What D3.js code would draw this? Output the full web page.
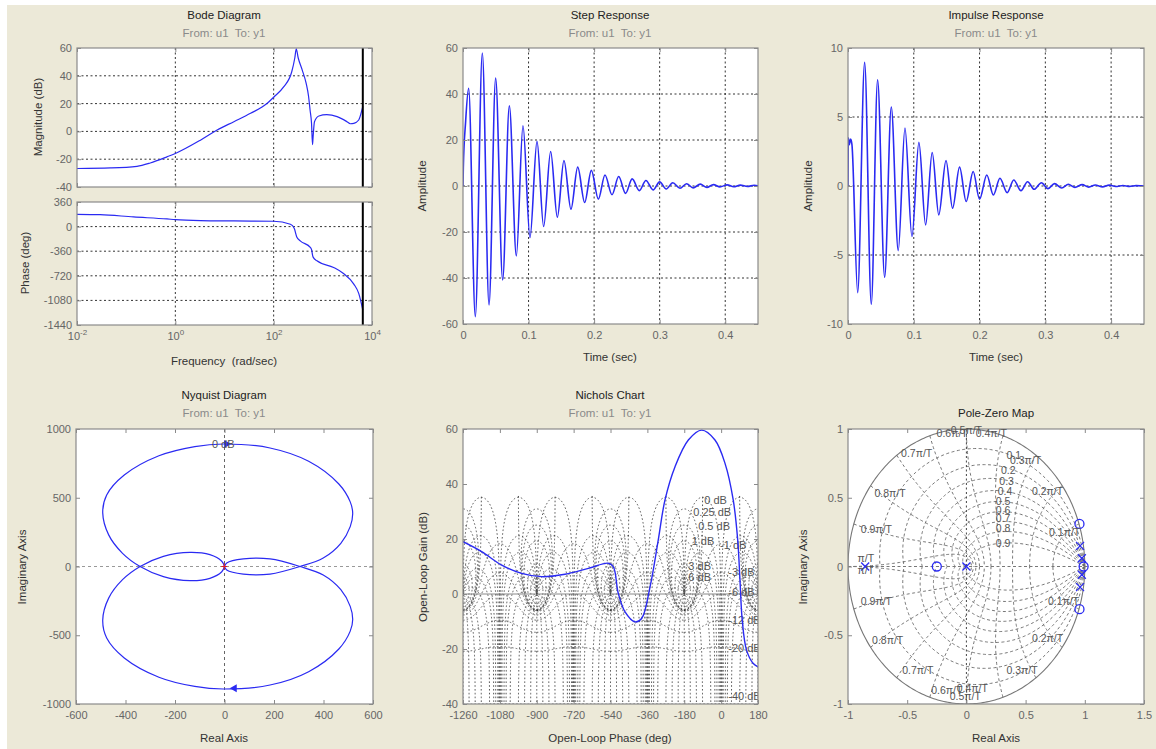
<!DOCTYPE html>
<html><head><meta charset="utf-8">
<script src="https://cdn.jsdelivr.net/npm/d3@7"></script>
<style>
body{margin:0;background:#fff;}
svg text{font-family:"Liberation Sans",Arial,Helvetica,sans-serif;}
.pre{white-space:pre;}
</style></head><body>
<svg id="chart" width="1156" height="749"></svg>
<script>
// ================= DATA =================
const panelTitles = ["Bode Diagram","Step Response","Impulse Response","Nyquist Diagram","Nichols Chart","Pole-Zero Map"];
const ioSubtitle = "From: u1  To: y1";

// Bode
const bodeFreqTicks = [0.01, 1, 100, 10000];
const bodeMagTicks = [-40, -20, 0, 20, 40, 60];
const bodePhaseTicks = [-1440, -1080, -720, -360, 0, 360];
const bodeMagFreq = [0.01,0.048,0.166,0.309,0.676,1,3.24,7.08,15.5,33.9,74.1,100,158,234,269,288,316,380,457,513,550,589,617,631,676,832,1202,1950,3090,3630,4266,5370,6300,6500];
const bodeMagDb   = [-26.7,-26.3,-25.1,-22.7,-18.3,-15.9,-6.3,1.0,7.0,13.0,20.2,24.6,31.8,43.1,52.8,59.3,52.8,44.3,34.7,25.1,15.4,5.8,-9.5,-5.0,7.0,11.1,12.0,10.6,7.0,5.5,5.8,8.2,16.0,18.0];
const bodePhaseFreq = [0.01,0.0295,0.141,0.676,1,3.24,15.5,100,219,263,295,347,562,589,631,759,1660,2630,4266,5370,6500];
const bodePhaseDeg  = [180,175,141,112,102,88,83,78,34,-29,-151,-209,-307,-336,-443,-501,-598,-686,-841,-978,-1221];
const nyquistFreq = 6500;

// Step response
const stepTimeTicks = [0, 0.1, 0.2, 0.3, 0.4];
const stepAmpTicks = [-60, -40, -20, 0, 20, 40, 60];
const stepT = [0,0.0005,0.004,0.0086,0.0188,0.0295,0.0397,0.0498,0.0605,0.0707,0.0814,0.0915,0.1022,0.1129,0.123,0.1337,0.1439,0.154,0.1647,0.175,0.1856,0.1958,0.2064,0.2166,0.2273,0.2375,0.248,0.258,0.269,0.279,0.29,0.300,0.310,0.320,0.331,0.341,0.351,0.362,0.372,0.382,0.392,0.403,0.413,0.423,0.434,0.444,0.45];
const stepY = [0,8,28,42.5,-56.8,57.8,-51.7,46.9,-40.8,34.9,-30.4,26.2,-22.4,19.4,-17.6,15.0,-13.6,11.1,-10.1,8.2,-7.2,6.8,-5.7,4.8,-3.8,4.1,-3.2,3.1,-2.0,2.4,-1.7,1.8,-1.3,1.4,-1.0,1.0,-0.8,0.8,-0.6,0.6,-0.4,0.5,-0.3,0.4,-0.2,0.3,0.1];

// Impulse response
const impAmpTicks = [-10, -5, 0, 5, 10];
const impT = [0,0.0005,0.002,0.004,0.006,0.0147,0.0253,0.0354,0.045,0.0557,0.0658,0.0764,0.0866,0.0972,0.1078,0.118,0.128,0.138,0.149,0.159,0.1696,0.1797,0.1903,0.2,0.211,0.221,0.231,0.242,0.252,0.263,0.273,0.283,0.294,0.304,0.314,0.325,0.335,0.345,0.356,0.366,0.376,0.387,0.397,0.407,0.418,0.428,0.438,0.45];
const impY = [0,3.5,3.0,3.4,3.0,-7.73,8.96,-8.57,7.70,-6.61,5.72,-4.68,4.20,-3.66,3.16,-2.82,2.43,-2.09,1.85,-1.61,1.37,-1.12,1.05,-0.95,0.80,-0.65,0.56,-0.48,0.44,-0.34,0.31,-0.24,0.24,-0.19,0.17,-0.14,0.13,-0.10,0.10,-0.08,0.07,-0.06,0.06,-0.04,0.04,-0.03,0.03,0];

// Nyquist (one frequency branch; the other is its mirror image)
const nyqReTicks = [-600, -400, -200, 0, 200, 400, 600];
const nyqImTicks = [-1000, -500, 0, 500, 1000];
const nyqRe = [0,-11,-59,-139,-247,-341,-412,-468,-492,-476,-405,-265,-120,-5,184,340,462,508,518,508,470,399,305,184,76,9,0];
const nyqIm = [0,-38,-86,-103,-74,0,96,230,390,520,665,805,872,891,862,765,600,470,385,290,169,62,0,-55,-55,-25,0];
const nyqArrowRe = [8, 40];
const nyqArrowIm = [891, -886];
const nyqArrowDir = [1, -1];
const nyqCritical = [-1, 0];
const nyqGridLabel = {text: "0 dB", re: -5, im: 891};

// Nichols
const nicholsPhaseTicks = [-1260, -1080, -900, -720, -540, -360, -180, 0, 180];
const nicholsGainTicks = [-40, -20, 0, 20, 40, 60];
const nicholsPhase = [-1260,-1169,-1071,-974,-876,-762,-648,-551,-526,-502,-469,-421,-388,-347,-307,-274,-225,-160,-95,-30,19,59,81,92,103,124,157,180];
const nicholsGain  = [19.0,15.4,10.5,7.5,6.3,7.2,9.3,11.2,9.9,0.2,-6.5,-10.1,-8.9,2.6,19.6,34.2,46.3,56.0,59.6,56.0,47.5,34.2,19.6,5.1,-9.5,-20.4,-25.3,-26.5];
const ngridGainDb = [6, 3, 1, 0.5, 0.25, 0, -1, -3, -6, -12, -20, -40];
const ngridPhaseDeg = [1, 5, 10, 20, 30, 50, 90, 120, 150, 180];
const nicholsLabelText  = ["0 dB","0.25 dB","0.5 dB","1 dB","-1 dB","3 dB","6 dB","-3 dB","-6 dB","-12 dB","-20 dB","-40 dB"];
const nicholsLabelPhase = [-82,-136,-112,-144,-5,-160,-160,35,35,35,35,35];
const nicholsLabelGain  = [34.2,29.6,24.7,19.4,17.8,10.2,6.3,8.1,0.5,-9.5,-19.8,-37.1];

// Pole-zero map
const pzReTicks = [-1, -0.5, 0, 0.5, 1, 1.5];
const pzImTicks = [-1, -0.5, 0, 0.5, 1];
const zerosRe = [0.955, 0.955, 0.99, -0.25];
const zerosIm = [0.31, -0.31, 0, 0];
const polesRe = [0, -0.855, 0.96, 0.96, 0.975, 0.975];
const polesIm = [0, 0, 0.15, -0.15, 0.06, -0.06];
const zgridZeta = [0.1,0.2,0.3,0.4,0.5,0.6,0.7,0.8,0.9];
const zgridWn = [0.1,0.2,0.3,0.4,0.5,0.6,0.7,0.8,0.9,1.0];
const zetaLabelText = ["0.1","0.2","0.3","0.4","0.5","0.6","0.7","0.8","0.9"];
const zetaLabelRe = [0.40,0.354,0.34,0.326,0.31,0.31,0.31,0.31,0.31];
const zetaLabelIm = [0.81,0.70,0.617,0.544,0.476,0.41,0.35,0.278,0.169];
const wnLabelText = ["0.1\u03c0/T","0.2\u03c0/T","0.3\u03c0/T","0.4\u03c0/T","0.5\u03c0/T","0.6\u03c0/T","0.7\u03c0/T","0.8\u03c0/T","0.9\u03c0/T","\u03c0/T"];
const wnLabelUpperRe = [0.83,0.685,0.50,0.21,0.0,-0.12,-0.42,-0.645,-0.76,-0.85];
const wnLabelUpperIm = [0.25,0.55,0.77,0.965,0.99,0.965,0.82,0.53,0.27,0.06];
const wnLabelLowerRe = [0.82,0.685,0.47,0.05,-0.01,-0.165,-0.41,-0.665,-0.76,-0.85];
const wnLabelLowerIm = [-0.256,-0.52,-0.753,-0.885,-0.947,-0.90,-0.753,-0.535,-0.256,-0.03];

// ================= DRAWING =================
const svg = d3.select("#chart");
const BLUE = "#2a2af2";
const TICKTXT = "#666";
const FRAME = "#8a8a8a";
svg.append("rect").attr("width",1156).attr("height",749).attr("fill","#fff");
svg.append("rect").attr("x",7).attr("y",5).attr("width",1149).attr("height",744).attr("fill","#ece9d8");

const fmt = d => String(d);

function addPanel(id, box, xs, ys, cfg) {
  const {x0,y0,x1,y1} = box;
  const g = svg.append("g");
  g.append("rect").attr("x",x0).attr("y",y0).attr("width",x1-x0).attr("height",y1-y0).attr("fill","#fff");
  svg.append("clipPath").attr("id","clip-"+id).append("rect")
    .attr("x",x0).attr("y",y0).attr("width",x1-x0).attr("height",y1-y0);
  const grid = g.append("g").attr("clip-path",`url(#clip-${id})`);
  const content = g.append("g").attr("clip-path",`url(#clip-${id})`);
  const over = g.append("g");
  if (cfg.gridX) grid.selectAll(null).data(cfg.gridX).join("line")
    .attr("x1",d=>xs(d)).attr("x2",d=>xs(d)).attr("y1",y0).attr("y2",y1)
    .attr("stroke","#333").attr("stroke-width",1).attr("stroke-dasharray","2,2.5");
  if (cfg.gridY) grid.selectAll(null).data(cfg.gridY).join("line")
    .attr("y1",d=>ys(d)).attr("y2",d=>ys(d)).attr("x1",x0).attr("x2",x1)
    .attr("stroke","#333").attr("stroke-width",1).attr("stroke-dasharray","2,2.5");
  over.append("rect").attr("x",x0).attr("y",y0).attr("width",x1-x0).attr("height",y1-y0)
    .attr("fill","none").attr("stroke",FRAME).attr("stroke-width",1.2);
  const mk = (axis, tx, ty) => {
    const a = over.append("g").attr("transform",`translate(${tx},${ty})`).call(axis);
    a.select(".domain").remove();
    a.attr("font-size",11).attr("font-family",null).attr("color",FRAME);
    a.selectAll("text").attr("fill",TICKTXT);
    return a;
  };
  const none = () => "";
  const xb = mk(d3.axisBottom(xs).tickValues(cfg.xTicks).tickSizeInner(-4).tickSizeOuter(0).tickPadding(7)
    .tickFormat(cfg.xLabels === false ? none : fmt), 0, y1);
  mk(d3.axisTop(xs).tickValues(cfg.xTicks).tickSizeInner(-4).tickSizeOuter(0).tickFormat(none), 0, y0);
  mk(d3.axisLeft(ys).tickValues(cfg.yTicks).tickSizeInner(-4).tickSizeOuter(0).tickPadding(5).tickFormat(fmt), x0, 0);
  mk(d3.axisRight(ys).tickValues(cfg.yTicks).tickSizeInner(-4).tickSizeOuter(0).tickFormat(none), x1, 0);
  return {g, grid, content, over, xb};
}
function title(cx, y, t, sub) {
  svg.append("text").attr("x",cx).attr("y",y).attr("text-anchor","middle").attr("font-size",11.5).attr("fill","#222").text(t);
  if (sub) svg.append("text").attr("class","pre").attr("x",cx).attr("y",y+18).attr("text-anchor","middle").attr("font-size",11.5).attr("fill","#8a8a8a").text(sub);
}
function xlabel(cx, y, t) {
  svg.append("text").attr("class","pre").attr("x",cx).attr("y",y).attr("dy","0.35em").attr("text-anchor","middle").attr("font-size",11.5).attr("fill","#333").text(t);
}
function ylabel(x, cy, t) {
  svg.append("text").attr("transform",`translate(${x},${cy}) rotate(-90)`).attr("dy","0.35em").attr("text-anchor","middle").attr("font-size",11.5).attr("fill","#333").text(t);
}

// ---------- Bode ----------
const bx = d3.scaleLog().domain([0.01, 10000]).range([77, 372]);
const bmY = d3.scaleLinear().domain([-40, 60]).range([187, 48]);
const bpY = d3.scaleLinear().domain([-1440, 360]).range([325, 202]);
const bm = addPanel("bm", {x0:77,y0:48,x1:372,y1:187}, bx, bmY, {xTicks:bodeFreqTicks, yTicks:bodeMagTicks, gridX:[1,100], gridY:[-20,0,20,40], xLabels:false});
const bp = addPanel("bp", {x0:77,y0:202,x1:372,y1:325}, bx, bpY, {xTicks:bodeFreqTicks, yTicks:bodePhaseTicks, gridX:[1,100], gridY:[-1080,-720,-360,0]});
bp.xb.selectAll(".tick text").each(function(d){
  const t = d3.select(this); t.text(null);
  t.append("tspan").text("10");
  t.append("tspan").attr("dy","-0.55em").attr("font-size",8).text(String(Math.round(Math.log10(d))));
});
bm.content.append("path").datum(d3.zip(bodeMagFreq, bodeMagDb))
  .attr("d", d3.line().x(d=>bx(d[0])).y(d=>bmY(d[1])).curve(d3.curveMonotoneX))
  .attr("fill","none").attr("stroke",BLUE).attr("stroke-width",1.2);
bp.content.append("path").datum(d3.zip(bodePhaseFreq, bodePhaseDeg))
  .attr("d", d3.line().x(d=>bx(d[0])).y(d=>bpY(d[1])).curve(d3.curveMonotoneX))
  .attr("fill","none").attr("stroke",BLUE).attr("stroke-width",1.2);
[bm, bp].forEach((p,i) => p.content.append("line")
  .attr("x1",bx(nyquistFreq)).attr("x2",bx(nyquistFreq)).attr("y1",i?202:48).attr("y2",i?325:187)
  .attr("stroke","#000").attr("stroke-width",2));
title(224, 19, panelTitles[0], ioSubtitle);
ylabel(38, 117, "Magnitude (dB)");
ylabel(25, 263, "Phase (deg)");
xlabel(224, 361, "Frequency  (rad/sec)");

// ---------- Step ----------
const sx = d3.scaleLinear().domain([0, 0.45]).range([463, 758]);
const sy = d3.scaleLinear().domain([-60, 60]).range([324, 48]);
const sp = addPanel("st", {x0:463,y0:48,x1:758,y1:324}, sx, sy, {xTicks:stepTimeTicks, yTicks:stepAmpTicks, gridX:[0.1,0.2,0.3,0.4], gridY:[-40,-20,0,20,40]});
sp.content.append("path").datum(d3.zip(stepT, stepY))
  .attr("d", d3.line().x(d=>sx(d[0])).y(d=>sy(d[1])).curve(d3.curveMonotoneX))
  .attr("fill","none").attr("stroke",BLUE).attr("stroke-width",1.6);
title(610, 19, panelTitles[1], ioSubtitle);
ylabel(422, 186, "Amplitude");
xlabel(610, 357, "Time (sec)");

// ---------- Impulse ----------
const ix = d3.scaleLinear().domain([0, 0.45]).range([848, 1144]);
const iy = d3.scaleLinear().domain([-10, 10]).range([324, 48]);
const ip = addPanel("im", {x0:848,y0:48,x1:1144,y1:324}, ix, iy, {xTicks:stepTimeTicks, yTicks:impAmpTicks, gridX:[0.1,0.2,0.3,0.4], gridY:[-5,0,5]});
ip.content.append("path").datum(d3.zip(impT, impY))
  .attr("d", d3.line().x(d=>ix(d[0])).y(d=>iy(d[1])).curve(d3.curveMonotoneX))
  .attr("fill","none").attr("stroke",BLUE).attr("stroke-width",1.6);
title(996, 19, panelTitles[2], ioSubtitle);
ylabel(808, 186, "Amplitude");
xlabel(996, 357, "Time (sec)");

// ---------- Nyquist ----------
const nx = d3.scaleLinear().domain([-600, 600]).range([76, 373]);
const ny = d3.scaleLinear().domain([-1000, 1000]).range([704, 429]);
const np = addPanel("ny", {x0:76,y0:429,x1:373,y1:704}, nx, ny, {xTicks:nyqReTicks, yTicks:nyqImTicks});
np.grid.append("line").attr("x1",nx(0)).attr("x2",nx(0)).attr("y1",429).attr("y2",704)
  .attr("stroke","#666").attr("stroke-dasharray","3,3");
np.grid.append("line").attr("y1",ny(0)).attr("y2",ny(0)).attr("x1",76).attr("x2",373)
  .attr("stroke","#999").attr("stroke-width",1.2).attr("stroke-dasharray","3,3");
const nyBranch = d3.zip(nyqRe, nyqIm);
const nyLine = d3.line().x(d=>nx(d[0])).y(d=>ny(d[1])).curve(d3.curveCatmullRom.alpha(0.5));
np.content.append("path").datum(nyBranch).attr("d", nyLine)
  .attr("fill","none").attr("stroke",BLUE).attr("stroke-width",1.2);
np.content.append("path").datum(nyBranch.map(d=>[d[0], -d[1]])).attr("d", nyLine)
  .attr("fill","none").attr("stroke",BLUE).attr("stroke-width",1.2);
np.content.selectAll(null).data(d3.range(nyqArrowRe.length)).join("path")
  .attr("d", d3.symbol(d3.symbolTriangle, 28))
  .attr("transform", i => `translate(${nx(nyqArrowRe[i])},${ny(nyqArrowIm[i])}) rotate(${nyqArrowDir[i] > 0 ? 90 : -90})`)
  .attr("fill", BLUE);
np.content.append("text").attr("x",nx(nyqGridLabel.re)).attr("y",ny(nyqGridLabel.im)).attr("dy","0.35em")
  .attr("text-anchor","middle").attr("font-size",11).attr("fill","#555").text(nyqGridLabel.text);
np.content.append("path").attr("d","M-3,0H3M0,-3V3")
  .attr("transform",`translate(${nx(nyqCritical[0])},${ny(nyqCritical[1])})`)
  .attr("stroke","#e02020").attr("stroke-width",1.2);
title(224, 399, panelTitles[3], ioSubtitle);
ylabel(22, 567, "Imaginary Axis");
xlabel(224, 738, "Real Axis");

// ---------- Nichols ----------
const kx = d3.scaleLinear().domain([-1260, 180]).range([463, 758]);
const ky = d3.scaleLinear().domain([-40, 60]).range([704, 429]);
const kp = addPanel("ni", {x0:463,y0:429,x1:758,y1:704}, kx, ky, {xTicks:nicholsPhaseTicks, yTicks:nicholsGainTicks});
function gFromT(m, th) {
  const tr = m*Math.cos(th), ti = m*Math.sin(th);
  const dr = 1 - tr, di = -ti, den = dr*dr + di*di;
  return [(tr*dr + ti*di)/den, (ti*dr - tr*di)/den];
}
const nCenters = d3.range(-1620, 181, 360);
const gridPaths = [];
ngridGainDb.forEach(db => {
  const m = Math.pow(10, db/20);
  const pts = [];
  for (let i = -400; i <= 400; i++) {
    const u = i/400, th = Math.PI*Math.sign(u)*u*u*0.99999;
    if (th === 0 && db === 0) { pts.push(null); continue; }
    const [gr, gi] = gFromT(m, th);
    let ph = Math.atan2(gi, gr)*180/Math.PI;
    if (m >= 1) { if (ph > 0) ph -= 360; }
    else { if (th < 0 && ph > 0) ph -= 360; if (th > 0 && ph < 0) ph += 360; }
    const gain = 20*Math.log10(Math.hypot(gr, gi));
    pts.push(gain > 36 || !isFinite(gain) ? null : [ph + 180, gain]);
  }
  nCenters.forEach(c => gridPaths.push(pts.map(p => p && [p[0] + c, p[1]])));
});
ngridPhaseDeg.forEach(p => {
  (p === 180 ? [-1] : [-1, 1]).forEach(sg => {
    const th = sg*p*Math.PI/180;
    const pts = [];
    for (let i = -250; i <= 250; i++) {
      const v = i/250, s = 3*Math.sign(v)*Math.abs(v)**3, m = Math.pow(10, s);
      const [gr, gi] = gFromT(m, th);
      let ph = Math.atan2(gi, gr)*180/Math.PI;
      if (ph > 0) ph -= 360;
      const gain = 20*Math.log10(Math.hypot(gr, gi));
      pts.push(gain > 36 || !isFinite(gain) ? null : [ph + 180, gain]);
    }
    nCenters.forEach(c => gridPaths.push(pts.map(q => q && [q[0] + c, q[1]])));
  });
});
const gLine = d3.line().defined(d => d).x(d=>kx(d[0])).y(d=>ky(d[1]));
kp.grid.selectAll(null).data(gridPaths).join("path").attr("d", gLine)
  .attr("fill","none").attr("stroke","#444").attr("stroke-width",0.9).attr("stroke-dasharray","1.6,2.2");
kp.grid.append("line").attr("x1",463).attr("x2",758).attr("y1",ky(0)).attr("y2",ky(0))
  .attr("stroke","#888").attr("stroke-width",1);
kp.content.selectAll(null).data(nicholsLabelText).join("text")
  .attr("x",(d,i)=>kx(nicholsLabelPhase[i])).attr("y",(d,i)=>ky(nicholsLabelGain[i])).attr("dy","0.35em")
  .attr("font-size",11).attr("fill","#555").text(d=>d);
kp.content.append("path").datum(d3.zip(nicholsPhase, nicholsGain))
  .attr("d", d3.line().x(d=>kx(d[0])).y(d=>ky(d[1])).curve(d3.curveCatmullRom.alpha(0.5)))
  .attr("fill","none").attr("stroke",BLUE).attr("stroke-width",1.4);
title(610, 399, panelTitles[4], ioSubtitle);
ylabel(423, 567, "Open-Loop Gain (dB)");
xlabel(610, 738, "Open-Loop Phase (deg)");

// ---------- Pole-Zero ----------
const zx = d3.scaleLinear().domain([-1, 1.5]).range([848, 1144]);
const zy = d3.scaleLinear().domain([-1, 1]).range([704, 429]);
const zp = addPanel("pz", {x0:848,y0:429,x1:1144,y1:704}, zx, zy, {xTicks:pzReTicks, yTicks:pzImTicks});
const zl = d3.line().x(d=>zx(d[0])).y(d=>zy(d[1]));
const zGridPaths = [];
zgridZeta.forEach(z => {
  const wd = Math.sqrt(1 - z*z), tmax = Math.PI/wd;
  const up = d3.range(0, 201).map(k => { const t = tmax*k/200, r = Math.exp(-z*t); return [r*Math.cos(wd*t), r*Math.sin(wd*t)]; });
  zGridPaths.push(up, up.map(d => [d[0], -d[1]]));
});
zgridWn.forEach(w => {
  const wn = w*Math.PI;
  const up = d3.range(0, 101).map(k => { const z = k/100, r = Math.exp(-z*wn), a = wn*Math.sqrt(1 - z*z); return [r*Math.cos(a), r*Math.sin(a)]; });
  zGridPaths.push(up, up.map(d => [d[0], -d[1]]));
});
zp.grid.selectAll(null).data(zGridPaths).join("path").attr("d", zl)
  .attr("fill","none").attr("stroke","#666").attr("stroke-width",0.9).attr("stroke-dasharray","3,2.5");
zp.grid.append("line").attr("x1",zx(0)).attr("x2",zx(0)).attr("y1",429).attr("y2",704)
  .attr("stroke","#444").attr("stroke-dasharray","2,2.5");
zp.grid.append("line").attr("x1",848).attr("x2",1144).attr("y1",zy(0)).attr("y2",zy(0))
  .attr("stroke","#777").attr("stroke-dasharray","3,2.5");
zp.grid.append("path").datum(d3.range(0, 361).map(k => [Math.cos(k*Math.PI/180), Math.sin(k*Math.PI/180)]))
  .attr("d", zl).attr("fill","none").attr("stroke","#777").attr("stroke-width",1.1);
zp.content.selectAll(null).data(zetaLabelText).join("text")
  .attr("x",(d,i)=>zx(zetaLabelRe[i])).attr("y",(d,i)=>zy(zetaLabelIm[i])).attr("dy","0.35em")
  .attr("text-anchor","middle").attr("font-size",10.5).attr("fill","#555").text(d=>d);
zp.g.append("g").selectAll(null).data(wnLabelText).join("text")
  .attr("x",(d,i)=>zx(wnLabelUpperRe[i])).attr("y",(d,i)=>zy(wnLabelUpperIm[i])).attr("dy","0.35em")
  .attr("text-anchor","middle").attr("font-size",10.5).attr("fill","#555").text(d=>d);
zp.g.append("g").selectAll(null).data(wnLabelText).join("text")
  .attr("x",(d,i)=>zx(wnLabelLowerRe[i])).attr("y",(d,i)=>zy(wnLabelLowerIm[i])).attr("dy","0.35em")
  .attr("text-anchor","middle").attr("font-size",10.5).attr("fill","#555").text(d=>d);
zp.content.selectAll(null).data(d3.range(zerosRe.length)).join("circle")
  .attr("cx",i=>zx(zerosRe[i])).attr("cy",i=>zy(zerosIm[i])).attr("r",4.5)
  .attr("fill","none").attr("stroke",BLUE).attr("stroke-width",1.3);
zp.content.selectAll(null).data(d3.range(polesRe.length)).join("path")
  .attr("d","M-4,-4L4,4M-4,4L4,-4")
  .attr("transform",i=>`translate(${zx(polesRe[i])},${zy(polesIm[i])})`)
  .attr("stroke",BLUE).attr("stroke-width",1.3);
title(996, 417, panelTitles[5], null);
ylabel(803, 567, "Imaginary Axis");
xlabel(996, 738, "Real Axis");
</script>
</body></html>
